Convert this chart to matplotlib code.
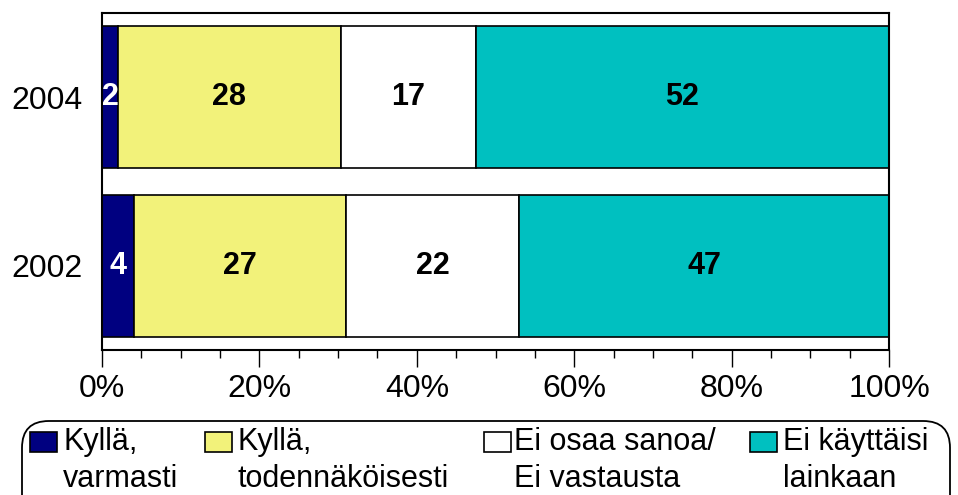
import matplotlib
matplotlib.use("Agg")
import matplotlib.pyplot as plt
from matplotlib.patches import Rectangle, FancyBboxPatch
from matplotlib.ticker import MultipleLocator, FuncFormatter

plt.rcParams['font.family'] = ['Liberation Sans', 'DejaVu Sans']

years = ["2002", "2004"]
series_names = ["Kyllä,\nvarmasti", "Kyllä,\ntodennäköisesti",
                "Ei osaa sanoa/\nEi vastausta", "Ei käyttäisi\nlainkaan"]
values = {
    "2002": [4, 27, 22, 47],
    "2004": [2, 28, 17, 52],
}
colors = ["#000080", "#F2F27A", "#FFFFFF", "#00C0C0"]
label_colors = ["white", "black", "black", "black"]

fig = plt.figure(figsize=(9.58, 4.95), dpi=100)
ax = fig.add_axes([0.1065, 0.2929, 0.8215, 0.6808])

for yi, yr in enumerate(years):
    vals = values[yr]
    total = sum(vals)
    left = 0.0
    for si, v in enumerate(vals):
        w = v / total * 100
        ax.barh(yi, w, left=left, height=0.84, color=colors[si],
                edgecolor="black", linewidth=1.2)
        ax.text(left + w / 2, yi, str(v), ha="center", va="center",
                fontsize=22, fontweight="bold", color=label_colors[si])
        left += w

ax.set_xlim(0, 100)
ax.set_ylim(-0.5, 1.5)
ax.set_yticks(range(len(years)))
ax.set_yticklabels(years, fontsize=23)
ax.tick_params(axis="y", length=0, pad=14)
ax.xaxis.set_major_locator(MultipleLocator(20))
ax.xaxis.set_minor_locator(MultipleLocator(5))
ax.xaxis.set_major_formatter(FuncFormatter(lambda x, p: f"{int(x)}%"))
ax.tick_params(axis="x", which="major", length=12, width=1, labelsize=23, pad=5)
ax.tick_params(axis="x", which="minor", length=6, width=1)
for s in ax.spines.values():
    s.set_linewidth(1.5)
    s.set_color("black")

# legend box
box = FancyBboxPatch((22 / 958, -0.1), (950 - 22) / 958, 1 - 421 / 495 + 0.1,
                     boxstyle="round,pad=0,rounding_size=0.028",
                     transform=fig.transFigure, facecolor="white",
                     edgecolor="black", linewidth=1.3, clip_on=False,
                     mutation_aspect=958 / 495)
fig.patches.append(box)

patch_x = [30, 205, 484, 750]
text_x = [63, 238, 514, 783]
for i, name in enumerate(series_names):
    fig.patches.append(Rectangle((patch_x[i] / 958, 1 - 452 / 495), 27 / 958, 20 / 495,
                                 transform=fig.transFigure, facecolor=colors[i],
                                 edgecolor="black", linewidth=1.2))
    l1, l2 = name.split("\n")
    fig.text(text_x[i] / 958, 1 - 442 / 495, l1, fontsize=22, ha="left", va="center")
    fig.text(text_x[i] / 958, 1 - 479 / 495, l2, fontsize=22, ha="left", va="center")

fig.savefig("out.png", dpi=100)
